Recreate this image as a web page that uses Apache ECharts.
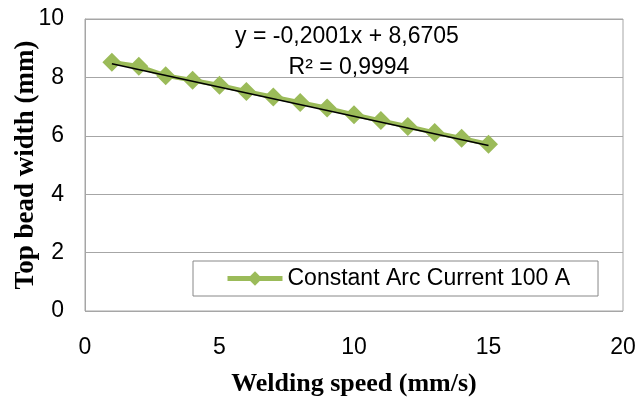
<!DOCTYPE html>
<html><head><meta charset="utf-8">
<script src="https://cdn.jsdelivr.net/npm/echarts@6/dist/echarts.min.js"></script>
<style>html,body{margin:0;padding:0;background:#fff}#c{width:637px;height:398px}</style>
</head><body><div id="c"></div>
<script>
const speeds = [1,2,3,4,5,6,7,8,9,10,11,12,13,14,15];
const widths = [8.52,8.38,8.06,7.90,7.73,7.52,7.33,7.14,6.95,6.72,6.52,6.32,6.11,5.92,5.71];
const seriesName = 'Constant Arc Current 100 A';
const trendSlope = -0.2001, trendIntercept = 8.6705;
const trendX = [1, 15];
const xTicks = [0,5,10,15,20];
const yTicks = [0,2,4,6,8,10];

const chart = echarts.init(document.getElementById('c'));
chart.setOption({
  animation:false,
  grid:{left:85,right:14,top:19,bottom:87,show:true,borderColor:'#A6A6A6',borderWidth:1,
    containLabel:false,outerBoundsMode:'none'},
  xAxis:{type:'value',min:xTicks[0],max:xTicks[xTicks.length-1],interval:5,
    name:'Welding speed (mm/s)',nameLocation:'middle',nameGap:60,nameMoveOverlap:false,
    nameTextStyle:{fontFamily:'Liberation Serif',fontWeight:'bold',fontSize:26,color:'#000'},
    axisLine:{show:false},axisTick:{show:false},splitLine:{show:false},
    axisLabel:{fontFamily:'Liberation Sans',fontSize:23,color:'#000',margin:25}},
  yAxis:{type:'value',min:yTicks[0],max:yTicks[yTicks.length-1],interval:2,
    name:'Top bead width (mm)',nameLocation:'middle',nameGap:45,nameMoveOverlap:false,
    nameTextStyle:{fontFamily:'Liberation Serif',fontWeight:'bold',fontSize:27,color:'#000'},
    axisLine:{show:true,lineStyle:{color:'#A6A6A6'}},axisTick:{show:false},
    splitLine:{show:true,lineStyle:{color:'#A6A6A6',width:1}},
    axisLabel:{fontFamily:'Liberation Sans',fontSize:23,color:'#000',margin:21}},
  legend:{left:193,top:261,
    data:[{name:seriesName}],
    borderColor:'#888',borderWidth:1,padding:[6,28,6,32],
    itemWidth:55,itemHeight:18,
    lineStyle:{width:5,color:'#9BBB59'},
    textStyle:{fontFamily:'Liberation Sans',fontSize:23,color:'#000'}},
  graphic:[
    {type:'text',style:{text:'y = -0,2001x + 8,6705',x:347,y:37,fontFamily:'Liberation Sans',fontSize:23,fill:'#000',textAlign:'center',textVerticalAlign:'middle'}},
    {type:'text',style:{text:'R² = 0,9994',x:349,y:68,fontFamily:'Liberation Sans',fontSize:23,fill:'#000',textAlign:'center',textVerticalAlign:'middle'}}
  ],
  series:[
    {name:seriesName,type:'line',data:speeds.map((s,i)=>[s,widths[i]]),
      symbol:'diamond',symbolSize:19,
      lineStyle:{color:'#9BBB59',width:4.5},itemStyle:{color:'#9BBB59'}},
    {name:'trend',type:'line',data:trendX.map(x=>[x,trendSlope*x+trendIntercept]),
      symbol:'none',lineStyle:{color:'#000',width:1.5},z:5}
  ]
});
</script></body></html>
